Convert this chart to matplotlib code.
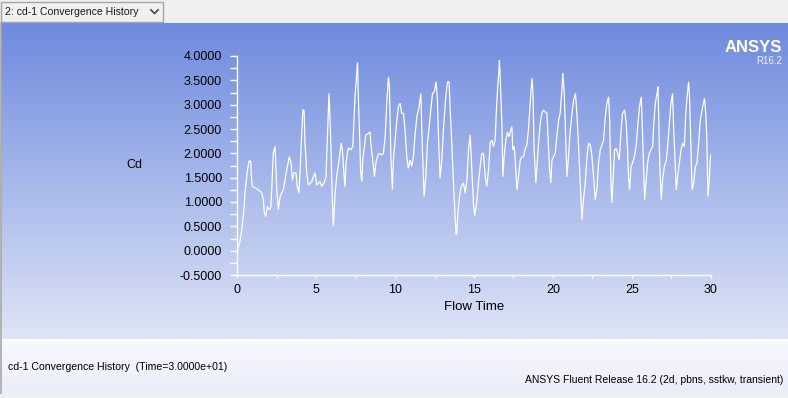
import numpy as np
import matplotlib
matplotlib.use("Agg")
import matplotlib.pyplot as plt
from matplotlib.patches import Rectangle
from matplotlib.ticker import MultipleLocator, FormatStrFormatter

# ---- data (Flow Time, Cd) ----
flow_time = [
    0.00, 0.17, 0.28, 0.42, 0.49, 0.63, 0.74, 0.85, 0.87, 0.95, 1.12, 1.33, 1.55, 1.65, 1.71, 1.80,
    1.90, 2.03, 2.12, 2.18, 2.28, 2.39, 2.43, 2.50, 2.60, 2.71, 2.82, 2.92, 3.02, 3.17, 3.30, 3.41,
    3.49, 3.60, 3.72, 3.80, 3.91, 4.02, 4.15, 4.23, 4.29, 4.40, 4.50, 4.72, 4.82, 4.93, 5.03, 5.14,
    5.24, 5.35, 5.50, 5.62, 5.71, 5.81, 5.88, 5.94, 6.02, 6.09, 6.20, 6.30, 6.45, 6.58, 6.66, 6.77,
    6.83, 6.89, 6.98, 7.04, 7.19, 7.32, 7.46, 7.57, 7.62, 7.67, 7.74, 7.82, 7.89, 7.95, 8.03, 8.14,
    8.31, 8.41, 8.48, 8.56, 8.69, 8.78, 8.88, 8.98, 9.16, 9.26, 9.37, 9.47, 9.58, 9.64, 9.73, 9.83,
    9.89, 10.00, 10.11, 10.21, 10.32, 10.42, 10.53, 10.63, 10.74, 10.84, 10.95, 11.06, 11.16, 11.27,
    11.38, 11.52, 11.63, 11.73, 11.84, 11.95, 12.05, 12.16, 12.26, 12.37, 12.49, 12.60, 12.68, 12.75,
    12.85, 12.96, 13.06, 13.21, 13.32, 13.42, 13.49, 13.60, 13.70, 13.80, 13.87, 13.91, 13.98, 14.08,
    14.19, 14.33, 14.44, 14.55, 14.65, 14.76, 14.87, 14.97, 15.04, 15.16, 15.28, 15.39, 15.50, 15.60,
    15.71, 15.81, 15.92, 16.03, 16.13, 16.23, 16.34, 16.40, 16.49, 16.58, 16.61, 16.66, 16.77, 16.83,
    16.91, 17.02, 17.12, 17.21, 17.29, 17.40, 17.46, 17.55, 17.61, 17.72, 17.82, 17.93, 18.04, 18.14,
    18.25, 18.35, 18.45, 18.56, 18.67, 18.73, 18.81, 18.92, 18.99, 19.09, 19.20, 19.30, 19.40, 19.51,
    19.62, 19.72, 19.78, 19.87, 19.94, 20.04, 20.15, 20.25, 20.36, 20.46, 20.57, 20.63, 20.72, 20.82,
    20.89, 20.99, 21.10, 21.21, 21.31, 21.43, 21.52, 21.62, 21.73, 21.84, 21.94, 22.05, 22.16, 22.26,
    22.37, 22.47, 22.58, 22.68, 22.79, 22.89, 23.00, 23.11, 23.21, 23.32, 23.42, 23.53, 23.59, 23.68,
    23.74, 23.80, 23.91, 24.01, 24.10, 24.20, 24.31, 24.41, 24.54, 24.65, 24.73, 24.79, 24.86, 24.95,
    25.05, 25.16, 25.27, 25.39, 25.49, 25.60, 25.68, 25.75, 25.81, 25.90, 26.00, 26.11, 26.21, 26.32,
    26.38, 26.49, 26.60, 26.66, 26.74, 26.80, 26.87, 26.95, 27.06, 27.19, 27.27, 27.38, 27.48, 27.58,
    27.65, 27.75, 27.82, 27.90, 28.01, 28.12, 28.22, 28.33, 28.41, 28.50, 28.60, 28.66, 28.75, 28.82,
    28.92, 29.03, 29.13, 29.24, 29.34, 29.49, 29.61, 29.70, 29.76, 29.83, 29.91, 29.97, 30.00,
]
cd = [
    0.00, 0.19, 0.43, 0.84, 1.19, 1.62, 1.84, 1.84, 1.62, 1.32, 1.29, 1.25, 1.19, 1.05, 0.78, 0.70,
    0.91, 0.84, 0.88, 1.25, 2.00, 2.14, 1.86, 1.25, 0.84, 1.11, 1.19, 1.25, 1.45, 1.73, 1.93, 1.80,
    1.45, 1.60, 1.60, 1.32, 1.19, 1.93, 2.89, 2.89, 2.21, 1.60, 1.35, 1.42, 1.52, 1.60, 1.35, 1.39,
    1.42, 1.32, 1.39, 1.52, 2.34, 3.23, 2.68, 2.07, 1.05, 0.50, 1.19, 1.52, 1.86, 2.21, 2.07, 1.52,
    1.32, 1.80, 2.00, 2.11, 2.07, 2.14, 3.16, 3.67, 3.87, 3.16, 2.48, 1.60, 1.42, 1.86, 2.07, 2.38,
    2.41, 2.44, 2.14, 1.93, 1.52, 1.80, 1.93, 2.00, 1.97, 2.00, 2.34, 3.03, 3.57, 3.37, 1.93, 1.25,
    1.86, 2.27, 2.68, 2.96, 3.03, 2.82, 2.82, 2.48, 1.93, 1.69, 1.86, 1.73, 1.93, 2.41,
    2.75, 2.96, 3.23, 2.07, 1.11, 1.52, 2.21, 2.55, 2.89, 3.23, 3.27, 3.47, 3.09, 2.34,
    1.49, 1.86, 2.48, 3.16, 3.47, 3.47, 2.89, 2.14, 1.39, 0.70, 0.33, 0.36, 0.77, 1.11,
    1.32, 1.39, 1.18, 1.45, 2.07, 2.38, 1.60, 0.95, 0.72, 0.95, 1.39, 1.73, 2.00, 2.00,
    1.52, 1.32, 1.66, 2.21, 2.27, 2.14, 2.27, 2.75, 3.30, 3.71, 3.91, 3.57, 2.55, 1.52,
    1.93, 2.27, 2.44, 2.34, 2.44, 2.55, 2.07, 2.14, 1.86, 1.25, 1.52, 1.86, 1.93, 1.93,
    2.10, 2.17, 2.48, 3.03, 3.54, 3.30, 2.07, 1.39, 1.73, 2.21, 2.62, 2.82, 2.89, 2.85,
    2.82, 2.14, 1.73, 1.39, 1.86, 1.93, 2.00, 2.34, 2.68, 2.82, 3.30, 3.65, 3.23, 2.21,
    1.52, 1.93, 2.48, 2.82, 3.09, 3.23, 2.82, 2.21, 1.39, 0.64, 1.05, 1.39, 1.93, 2.21,
    2.17, 1.95, 1.52, 1.05, 1.25, 1.80, 2.07, 2.17, 2.27, 2.75, 3.03, 3.16, 2.75, 1.39,
    0.98, 1.39, 2.07, 2.10, 2.00, 1.86, 2.41, 2.82, 2.89, 2.62, 2.07, 1.52, 1.25, 1.73,
    1.80, 1.93, 2.14, 2.62, 2.96, 3.16, 2.41, 1.66, 1.05, 1.39, 1.80, 2.00, 2.07, 2.14,
    2.55, 3.03, 3.23, 3.37, 2.21, 1.52, 1.05, 1.45, 1.73, 1.86, 2.14, 2.62, 3.03, 3.23,
    2.55, 1.80, 1.25, 1.52, 1.80, 2.07, 2.21, 2.14, 2.75, 3.16, 3.47, 3.16, 2.07, 1.25,
    1.39, 1.73, 1.80, 2.21, 2.68, 2.96, 3.13, 2.75, 2.21, 1.11, 1.45, 1.86, 1.97,
]

x_major = 5
x_minor = 2.5
y_major = 0.5
y_minor = 0.25
x_limits = (0, 30)
y_limits = (-0.5, 4.0)

title_tab = "2: cd-1 Convergence History"
x_label = "Flow Time"
y_label = "Cd"
footer_left = "cd-1 Convergence History  (Time=3.0000e+01)"
footer_right = "ANSYS Fluent Release 16.2 (2d, pbns, sstkw, transient)"

W, H = 788, 398
FONT = ["Liberation Sans", "DejaVu Sans"]
plt.rcParams["font.family"] = FONT

fig = plt.figure(figsize=(W / 100, H / 100), dpi=100)
fig.patch.set_facecolor("#f0f0f0")

# background layer in pixel coordinates
bg = fig.add_axes([0, 0, 1, 1])
bg.set_xlim(0, W)
bg.set_ylim(H, 0)
bg.axis("off")

# graphics window gradient
top = np.array([111, 138, 222]) / 255
bot = np.array([222, 229, 247]) / 255
n = 256
g = np.linspace(0, 1, n)[:, None]
grad = (top[None, :] * (1 - g) + bot[None, :] * g)[:, None, :]
bg.imshow(grad, extent=(1, W, 339, 23), aspect="auto", interpolation="bilinear", zorder=0)

# bottom info panel gradient
ptop = np.array([248, 249, 254]) / 255
pbot = np.array([234, 237, 250]) / 255
pgrad = (ptop[None, :] * (1 - g) + pbot[None, :] * g)[:, None, :]
bg.imshow(pgrad, extent=(2, W, 393, 340), aspect="auto", interpolation="bilinear", zorder=0)
bg.plot([2, W], [339.5, 339.5], color="white", lw=1.2, zorder=1)
bg.plot([0.8, 0.8], [23, 393], color="#a8a8a8", lw=1.2, zorder=1)

bg.set_xlim(0, W)
bg.set_ylim(H, 0)

# tab / dropdown
bg.add_patch(Rectangle((0.5, 1.5), 163, 20, facecolor="#f0f0f0", edgecolor="#a6a6a6", lw=1, zorder=2))
bg.text(5, 12, title_tab, fontsize=7.6, color="#1a1a1a", va="center", ha="left", zorder=3)
bg.plot([151, 154.5, 158], [10, 13.5, 10], color="#505050", lw=1.3, zorder=3)

# ANSYS logo
bg.text(782, 47.5, "ANSYS", fontsize=12, fontweight="bold", color="white", ha="right", va="center", zorder=3)
bg.text(782, 60.5, "R16.2", fontsize=7, color="#eef2fc", ha="right", va="center", zorder=3)

# axis labels
bg.text(134, 165, y_label, fontsize=9, color="black", ha="center", va="center", zorder=3)
bg.text(474, 306.5, x_label, fontsize=9.5, color="black", ha="center", va="center", zorder=3)

# footer texts
bg.text(8, 367, footer_left, fontsize=7.6, color="black", ha="left", va="center", zorder=3)
bg.text(783, 380, footer_right, fontsize=7.5, color="black", ha="right", va="center", zorder=3)

# ---- main plot axes ----
x0, x1 = 237.3, 710.7
y_top, y_bot = 56, 275
ax = fig.add_axes([x0 / W, (H - y_bot) / H, (x1 - x0) / W, (y_bot - y_top) / H])
ax.patch.set_alpha(0)
ax.plot(flow_time, cd, color="white", lw=0.9, solid_joinstyle="miter")
ax.set_xlim(*x_limits)
ax.set_ylim(*y_limits)
for s in ["top", "right"]:
    ax.spines[s].set_visible(False)
for s in ["left", "bottom"]:
    ax.spines[s].set_color("white")
    ax.spines[s].set_linewidth(1.0)
ax.xaxis.set_major_locator(MultipleLocator(x_major))
ax.xaxis.set_minor_locator(MultipleLocator(x_minor))
ax.yaxis.set_major_locator(MultipleLocator(y_major))
ax.yaxis.set_minor_locator(MultipleLocator(y_minor))
ax.yaxis.set_major_formatter(FormatStrFormatter("%.4f"))
ax.tick_params(axis="y", which="both", direction="out", length=5, width=1, color="white",
               labelsize=9, labelcolor="black", pad=6)
ax.tick_params(axis="x", which="both", direction="out", length=2.5, width=1, color="white",
               labelsize=9, labelcolor="black", pad=4)

fig.savefig("out.png", dpi=100)
